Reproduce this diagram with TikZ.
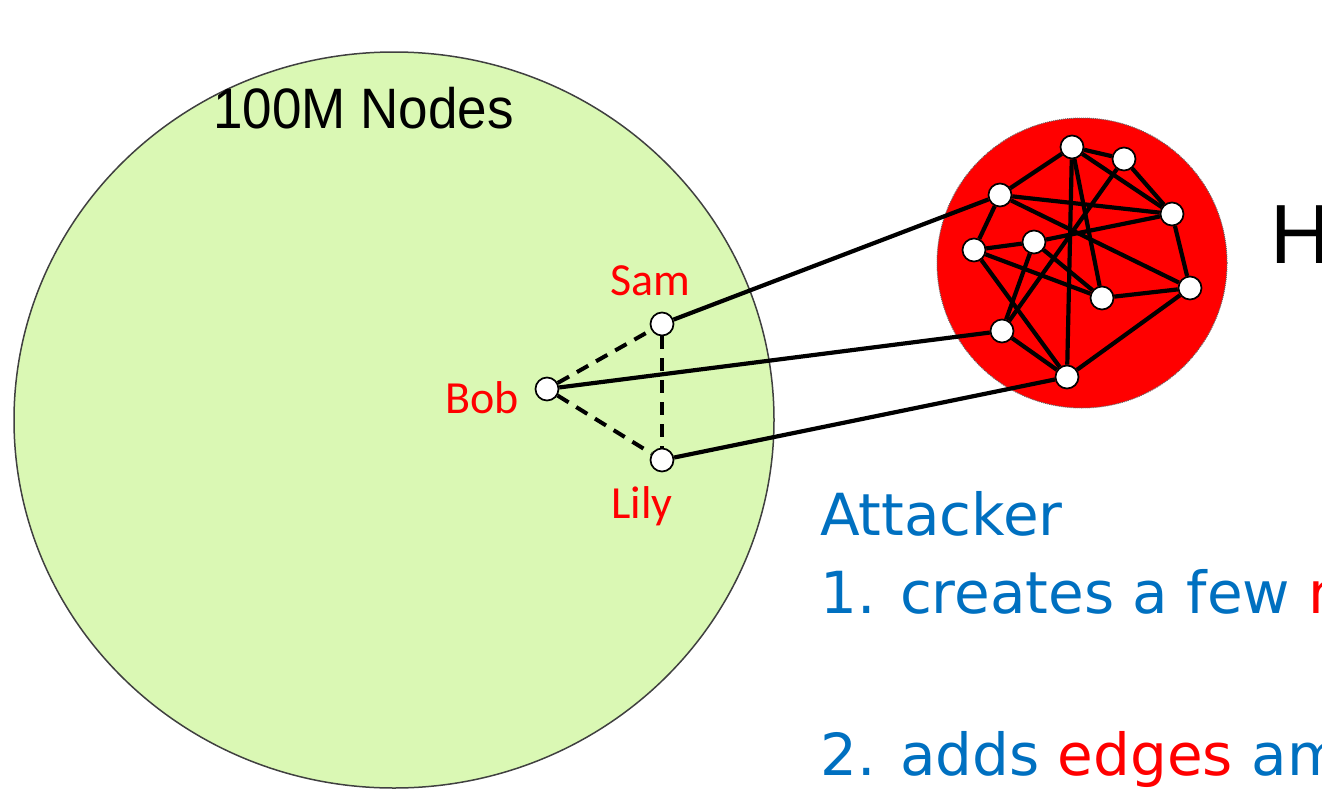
\documentclass[tikz,border=0pt]{standalone}
\usepackage{fontspec}
\setmainfont{Liberation Sans}
\newfontfamily\labelfont{Carlito}
\newfontfamily\notefont{DejaVu Sans}
\definecolor{crowdgreen}{RGB}{218,248,180}
\definecolor{noteblue}{RGB}{0,112,192}
\definecolor{sybilred}{RGB}{255,0,0}

\begin{document}
\begin{tikzpicture}[x=1pt, y=-1pt,
  vertex/.style={circle, draw=black, fill=white, line width=1.7pt, minimum size=23pt, inner sep=0pt},
  edge/.style={line width=4.2pt},
  weak/.style={line width=4pt, dash pattern=on 13pt off 9pt},
  pname/.style={text=sybilred, font=\labelfont\fontsize{46}{50}\selectfont, anchor=base, inner sep=0pt},
  blurb/.style={text=noteblue, font=\notefont\fontsize{58}{66}\selectfont, anchor=base west, inner sep=0pt}]
\useasboundingbox (0,0) rectangle (1322,790);
\clip (0,0) rectangle (1322,790);

% the big network and the planted subgraph
\draw[fill=crowdgreen, draw=black!75, line width=1.5pt] (394,420) ellipse [x radius=380pt, y radius=368pt];
\draw[fill=sybilred, draw=black!60, densely dotted, line width=1pt] (1082,263) circle [radius=145pt];

\node[font=\fontsize{57}{60}\selectfont, xscale=0.93, anchor=base west, inner sep=0pt] (crowdlabel) at (213,128) {100M Nodes};
\node[font=\fontsize{84}{90}\selectfont, anchor=base west, inner sep=0pt] (hlabel) at (1270,263) {H};


% targets
\node[vertex] (sam) at (662,324) {};
\node[vertex] (bob) at (547,389) {};
\node[vertex] (lily) at (662,460) {};
\node[pname] (samlabel) at (650,295) {Sam};
\node[pname] (boblabel) at (482,413) {Bob};
\node[pname] (lilylabel) at (642,518) {Lily};

\draw[weak] (bob) -- (sam);
\draw[weak] (bob) -- (lily);
\draw[weak] (sam) -- (lily);


% sybil nodes
\node[vertex] (h1) at (1072,147) {};
\node[vertex] (h2) at (1124,159) {};
\node[vertex] (h3) at (1000,195) {};
\node[vertex] (h4) at (1172,214) {};
\node[vertex] (h5) at (1034,242) {};
\node[vertex] (h6) at (974,250) {};
\node[vertex] (h7) at (1102,298) {};
\node[vertex] (h8) at (1190,288) {};
\node[vertex] (h9) at (1002,331) {};
\node[vertex] (h10) at (1067,377) {};

\draw[edge] (h1) -- (h2);
\draw[edge] (h1) -- (h3);
\draw[edge] (h1) -- (h4);
\draw[edge] (h1) -- (h7);
\draw[edge] (h1) -- (h10);
\draw[edge] (h2) -- (h4);
\draw[edge] (h2) -- (h9);
\draw[edge] (h3) -- (h4);
\draw[edge] (h3) -- (h6);
\draw[edge] (h3) -- (h8);
\draw[edge] (h5) -- (h4);
\draw[edge] (h5) -- (h6);
\draw[edge] (h5) -- (h7);
\draw[edge] (h5) -- (h9);
\draw[edge] (h6) -- (h7);
\draw[edge] (h6) -- (h10);
\draw[edge] (h7) -- (h8);
\draw[edge] (h4) -- (h8);
\draw[edge] (h8) -- (h10);
\draw[edge] (h9) -- (h10);


% links into the crowd
\draw[edge] (sam) -- (h3);
\draw[edge] (bob) -- (h9);
\draw[edge] (lily) -- (h10);


\node[blurb] (attacker) at (820,535) {Attacker};
\node[blurb] (first) at (820,613) {1. creates a few \textcolor{sybilred}{nodes}};
\node[blurb] (second) at (820,775) {2. adds \textcolor{sybilred}{edges} among them};

\end{tikzpicture}
\end{document}
